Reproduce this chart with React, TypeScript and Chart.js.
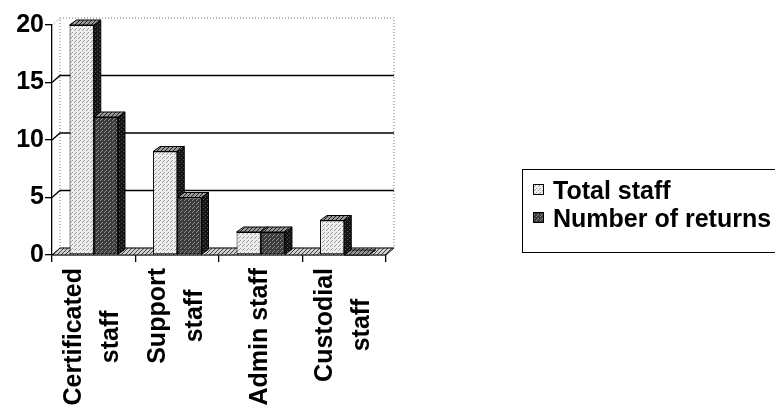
import React, { useEffect, useRef } from 'react';
import { Chart, registerables } from 'chart.js';

Chart.register(...registerables);

// ---- data ----
const categories: string[][] = [
  ['Certificated', 'staff'],
  ['Support', 'staff'],
  ['Admin staff'],
  ['Custodial', 'staff'],
];
const totalStaff = [20, 9, 2, 3];
const numberOfReturns = [12, 5, 2, 0];
const seriesNames = ['Total staff', 'Number of returns'];
const yMin = 0;
const yMax = 20;
const yStep = 5;

const FONT = '"Liberation Sans", Arial, Helvetica, sans-serif';

function makePattern(bg: string, fg: string, cells: number[][], size = 4): CanvasPattern | string {
  const c = document.createElement('canvas');
  c.width = size;
  c.height = size;
  const g = c.getContext('2d');
  if (!g) return bg;
  g.fillStyle = bg;
  g.fillRect(0, 0, size, size);
  g.fillStyle = fg;
  cells.forEach(([x, y]) => g.fillRect(x, y, 1, 1));
  const ctx = document.createElement('canvas').getContext('2d');
  return (ctx && ctx.createPattern(c, 'repeat')) || bg;
}

export default function App() {
  const ref = useRef<HTMLCanvasElement | null>(null);

  useEffect(() => {
    document.body.style.margin = '0';
    const canvas = ref.current;
    if (!canvas) return;

    const lightFront = makePattern('#eeeeee', '#9c9c9c', [[0, 0], [2, 2], [3, 1]]);
    const darkFront = makePattern('#3c3c3c', '#8a8a8a', [[0, 0], [2, 2], [1, 3]]);
    const darkSide = makePattern('#151515', '#555555', [[1, 1], [3, 3]]);
    const hatch = makePattern('#9a9a9a', '#202020', [[0, 3], [1, 2], [2, 1], [3, 0]]);
    const floorHatch = makePattern('#d0d0d0', '#404040', [[0, 3], [1, 2], [2, 1], [3, 0]]);

    const BDX = 7;
    const BDY = 5;
    const WDX = 8;
    const WDY = 7;

    const threeD = {
      id: 'threeD',
      beforeDatasetsDraw(chart: any) {
        const { ctx, chartArea } = chart;
        const { left, right, top, bottom } = chartArea;
        const y = chart.scales.y;
        ctx.save();
        // back wall
        ctx.fillStyle = '#ffffff';
        ctx.beginPath();
        ctx.moveTo(left + WDX, top - WDY);
        ctx.lineTo(right + WDX, top - WDY);
        ctx.lineTo(right + WDX, bottom - WDY);
        ctx.lineTo(left + WDX, bottom - WDY);
        ctx.closePath();
        ctx.fill();
        ctx.setLineDash([1, 2]);
        ctx.strokeStyle = '#777777';
        ctx.lineWidth = 1;
        ctx.stroke();
        ctx.beginPath();
        ctx.moveTo(left, top);
        ctx.lineTo(left + WDX, top - WDY);
        ctx.stroke();
        ctx.setLineDash([]);
        // gridlines
        ctx.strokeStyle = '#000000';
        ctx.lineWidth = 1.3;
        for (let v = yMin + yStep; v < yMax; v += yStep) {
          const py = y.getPixelForValue(v);
          ctx.beginPath();
          ctx.moveTo(left, py);
          ctx.lineTo(left + WDX, py - WDY);
          ctx.lineTo(right + WDX, py - WDY);
          ctx.stroke();
        }
        // floor
        ctx.beginPath();
        ctx.moveTo(left, bottom);
        ctx.lineTo(right, bottom);
        ctx.lineTo(right + WDX, bottom - WDY);
        ctx.lineTo(left + WDX, bottom - WDY);
        ctx.closePath();
        ctx.fillStyle = floorHatch;
        ctx.fill();
        ctx.lineWidth = 1;
        ctx.stroke();
        // bar depth faces
        chart.data.datasets.forEach((ds: any, di: number) => {
          const meta = chart.getDatasetMeta(di);
          meta.data.forEach((el: any) => {
            const { x, y: ty, base, width } = el.getProps(['x', 'y', 'base', 'width'], true);
            const x0 = x - width / 2;
            const x1 = x + width / 2;
            ctx.lineWidth = 1;
            ctx.strokeStyle = '#000';
            // side
            ctx.beginPath();
            ctx.moveTo(x1, ty);
            ctx.lineTo(x1 + BDX, ty - BDY);
            ctx.lineTo(x1 + BDX, base - BDY);
            ctx.lineTo(x1, base);
            ctx.closePath();
            ctx.fillStyle = darkSide;
            ctx.fill();
            ctx.stroke();
            // top
            ctx.beginPath();
            ctx.moveTo(x0, ty);
            ctx.lineTo(x0 + BDX, ty - BDY);
            ctx.lineTo(x1 + BDX, ty - BDY);
            ctx.lineTo(x1, ty);
            ctx.closePath();
            ctx.fillStyle = hatch;
            ctx.fill();
            ctx.stroke();
          });
        });
        ctx.restore();
      },
      afterDraw(chart: any) {
        const { ctx, chartArea } = chart;
        const xs = chart.scales.x;
        ctx.save();
        // category labels (rotated, lines centred on each other)
        ctx.fillStyle = '#000';
        ctx.font = `bold 25px ${FONT}`;
        ctx.textAlign = 'center';
        ctx.textBaseline = 'middle';
        const L = 37;
        categories.forEach((lines, i) => {
          const px = xs.getPixelForValue(i) - 1;
          const maxW = Math.max(...lines.map((s) => ctx.measureText(s).width));
          ctx.save();
          ctx.translate(px, chartArea.bottom + 13);
          ctx.rotate(-Math.PI / 2);
          lines.forEach((s, li) => {
            ctx.fillText(s, -maxW / 2, (li - (lines.length - 1) / 2) * L);
          });
          ctx.restore();
        });
        // legend
        const bx = 522.5;
        const by = 169.5;
        ctx.strokeStyle = '#000';
        ctx.lineWidth = 1;
        ctx.strokeRect(bx, by, 270, 83);
        ctx.textAlign = 'left';
        ctx.textBaseline = 'alphabetic';
        ctx.font = `bold 25px ${FONT}`;
        chart.data.datasets.forEach((ds: any, di: number) => {
          const rowY = 199 + di * 28;
          ctx.fillStyle = ds.backgroundColor;
          ctx.fillRect(533, rowY - 15, 11, 11);
          ctx.strokeRect(533.5, rowY - 14.5, 10, 10);
          ctx.fillStyle = '#000';
          ctx.fillText(ds.label, 553, rowY);
        });
        ctx.restore();
      },
    };

    const chart = new Chart(canvas, {
      type: 'bar',
      data: {
        labels: categories,
        datasets: [
          {
            label: seriesNames[0],
            data: totalStaff,
            backgroundColor: lightFront as any,
            borderColor: '#000',
            borderWidth: 1,
            borderSkipped: false,
          },
          {
            label: seriesNames[1],
            data: numberOfReturns,
            backgroundColor: darkFront as any,
            borderColor: '#000',
            borderWidth: 1,
            borderSkipped: false,
          },
        ],
      },
      options: {
        responsive: false,
        animation: false,
        devicePixelRatio: 1,
        layout: { padding: { left: 0, top: 25, right: 389, bottom: 0 } },
        datasets: {
          bar: { categoryPercentage: 0.58, barPercentage: 1 },
        },
        plugins: {
          legend: { display: false },
          tooltip: { enabled: false },
          title: { display: false },
        },
        scales: {
          x: {
            offset: true,
            grid: {
              offset: true,
              drawOnChartArea: false,
              drawTicks: true,
              tickLength: 7,
              color: '#000',
              lineWidth: 1.3,
            },
            border: { display: true, color: '#000', width: 1.3 },
            ticks: { display: false },
            afterFit: (s: any) => {
              s.height = 155;
            },
          },
          y: {
            min: yMin,
            max: yMax,
            ticks: {
              stepSize: yStep,
              color: '#000',
              padding: 1,
              font: { family: FONT, size: 25, weight: 'bold' },
            },
            grid: {
              drawOnChartArea: false,
              drawTicks: true,
              tickLength: 7,
              color: '#000',
              lineWidth: 1.3,
            },
            border: { display: true, color: '#000', width: 1.3 },
            afterFit: (s: any) => {
              s.width = 52;
            },
          },
        },
      },
      plugins: [threeD],
    } as any);

    return () => chart.destroy();
  }, []);

  return <canvas ref={ref} width={775} height={410} style={{ display: 'block' }} />;
}
